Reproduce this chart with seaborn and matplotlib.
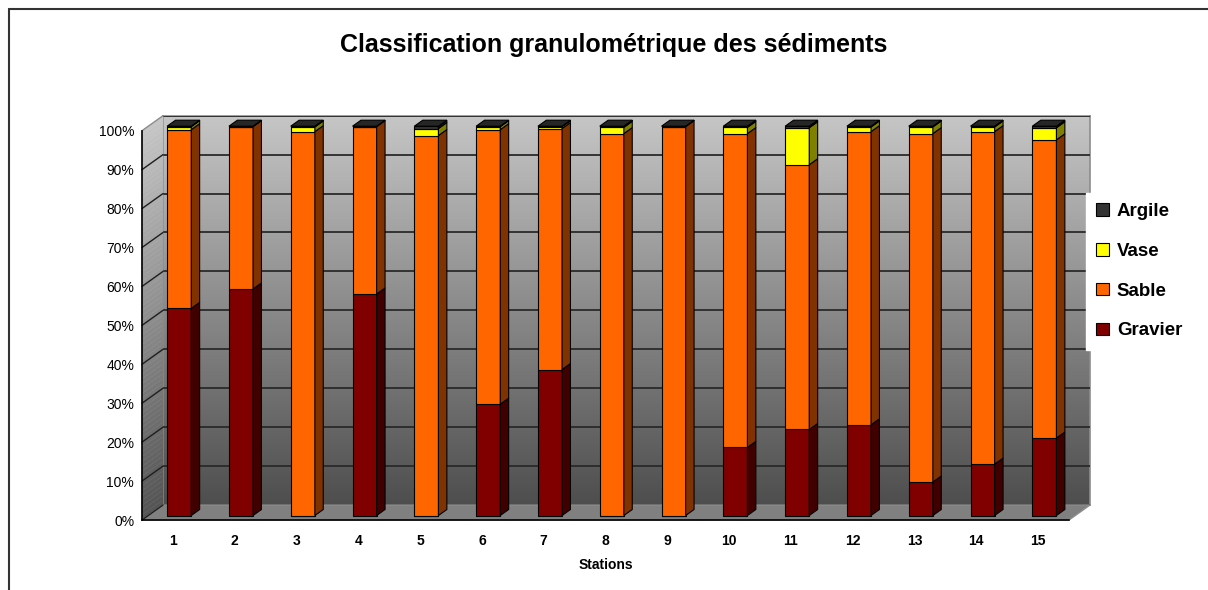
import numpy as np
import matplotlib
matplotlib.use("Agg")
import matplotlib.pyplot as plt
import seaborn as sns
from matplotlib.patches import Polygon, Patch
from matplotlib.colors import LinearSegmentedColormap
from matplotlib.lines import Line2D

# ---------------- data ----------------
stations = [str(i) for i in range(1, 16)]
gravier = [53.2, 58.2, 0.0, 56.9, 0.0, 28.6, 37.5, 0.0, 0.0, 17.5, 22.1, 23.3, 8.6, 13.2, 19.9]
sable = [45.9, 41.7, 98.6, 43.0, 97.6, 70.5, 61.9, 98.1, 99.9, 80.6, 68.0, 75.3, 89.5, 85.4, 76.6]
vase = [0.8, 0.0, 1.2, 0.0, 1.8, 0.8, 0.5, 1.6, 0.0, 1.6, 9.5, 1.2, 1.7, 1.2, 3.1]
argile = [0.1, 0.1, 0.2, 0.1, 0.6, 0.1, 0.1, 0.3, 0.1, 0.3, 0.4, 0.2, 0.2, 0.2, 0.4]
series_names = ["Gravier", "Sable", "Vase", "Argile"]
ytick_values = list(range(0, 101, 10))
ytick_labels = [f"{v}%" for v in ytick_values]
title = "Classification granulométrique des sédiments"
xlabel = "Stations"

front_colors = ["#800000", "#FF6600", "#FFFF00", "#333333"]
side_colors = ["#400000", "#803300", "#808000", "#1a1a1a"]
top_color = "#262626"

# ---------------- style ----------------
sns.set_style("white")
plt.rcParams["font.family"] = ["Liberation Sans", "DejaVu Sans"]
plt.rcParams["text.color"] = "black"
plt.rcParams["axes.labelcolor"] = "black"
plt.rcParams["xtick.color"] = "black"
plt.rcParams["ytick.color"] = "black"

W, H = 1208, 590
fig = plt.figure(figsize=(W / 100, H / 100), dpi=100)


def rect(x0, ytop, x1, ybot):
    return [x0 / W, 1 - ybot / H, (x1 - x0) / W, (ybot - ytop) / H]


FL, FR, FB, FT = 142, 1069, 520, 130.7     # front plane in pixels
DX, DY = 21, 15                              # depth of the 3D box in pixels
n = len(stations)
ux = (FR - FL) / n
uy = (FB - FT) / 100.0
BX, BY = DX / ux, DY / uy                    # depth in data units

ax_back = fig.add_axes(rect(FL + DX, FT - DY, FR + DX, FB - DY), zorder=0)
ax_frame = fig.add_axes(rect(FL, FT, FR, FB), zorder=1)
ax_bars = fig.add_axes(rect(FL + 0.3 * DX, FT - 0.3 * DY, FR + 0.3 * DX, FB - 0.3 * DY), zorder=2)

for a in (ax_back, ax_frame, ax_bars):
    a.set_xlim(-0.5, n - 0.5)
    a.set_ylim(0, 100)

# ---------------- back wall ----------------
wall_cmap = LinearSegmentedColormap.from_list("wall", ["#4e4e4e", "#8a8a8a", "#c6c6c6"])
ax_back.imshow(np.linspace(0, 1, 256)[:, None], cmap=wall_cmap, origin="lower",
               extent=(-0.5, n - 0.5, 0, 100), aspect="auto", zorder=0)
ax_back.set_yticks(ytick_values)
ax_back.yaxis.grid(True, color="#2a2a2a", lw=1.3)
ax_back.set_axisbelow(False)
ax_back.tick_params(left=False, bottom=False, labelleft=False, labelbottom=False)
for s in ax_back.spines.values():
    s.set_color("#8c8c8c")
    s.set_linewidth(1.2)
ax_back.set_xlim(-0.5, n - 0.5)
ax_back.set_ylim(0, 100)

# ---------------- side wall & floor ----------------
ax_frame.set_facecolor("none")
N = 80
for k in range(N):
    y0, y1 = 100 * k / N, 100 * (k + 1) / N
    c = wall_cmap(0.05 + 0.95 * (k + 0.5) / N)
    ax_frame.add_patch(Polygon([(-0.5, y0), (-0.5 + BX, y0 + BY), (-0.5 + BX, y1 + BY), (-0.5, y1)],
                               closed=True, fc=c, ec=c, lw=0.3, clip_on=False, zorder=0.5))
ax_frame.add_patch(Polygon([(-0.5, 0), (n - 0.5, 0), (n - 0.5 + BX, BY), (-0.5 + BX, BY)],
                           closed=True, fc="#808080", ec="#8c8c8c", lw=1.0, clip_on=False, zorder=0.6))
for v in ytick_values:
    col = "#1e1e1e" if v < 100 else "#8c8c8c"
    ax_frame.plot([-0.5, -0.5 + BX], [v, v + BY], color=col, lw=1.0, clip_on=False, zorder=0.8)

for s in ("top", "right"):
    ax_frame.spines[s].set_visible(False)
for s in ("left", "bottom"):
    ax_frame.spines[s].set_color("black")
    ax_frame.spines[s].set_linewidth(1.2)
    ax_frame.spines[s].set_zorder(3)

ax_frame.set_yticks(ytick_values)
ax_frame.set_yticklabels(ytick_labels)
ax_frame.tick_params(axis="y", length=3.6, width=1, color="black", pad=2, labelsize=10, labelcolor="black")
ax_frame.set_xticks(range(n))
ax_frame.set_xticklabels(stations, fontweight="bold")
ax_frame.set_xticks(np.arange(-0.5, n, 1.0), minor=True)
ax_frame.tick_params(axis="x", which="major", length=0, pad=10, labelsize=10, labelcolor="black")
ax_frame.tick_params(axis="x", which="minor", length=4.5, width=1, color="black", direction="out")
ax_frame.set_xlabel(xlabel, fontweight="bold", fontsize=10, labelpad=7, color="black")
ax_frame.set_ylabel("")
ax_frame.set_xlim(-0.5, n - 0.5)
ax_frame.set_ylim(0, 100)

# ---------------- bars ----------------
ax_bars.set_facecolor("none")
layers = [np.array(gravier), np.array(sable), np.array(vase), np.array(argile)]
total = sum(layers)
layers = [l / total * 100 for l in layers]
width = 0.39
ddx, ddy = 0.4 * BX, 0.4 * BY
bottom = np.zeros(n)
for vals, name, fc, sc in zip(layers, series_names, front_colors, side_colors):
    sns.barplot(x=stations, y=vals, bottom=bottom, color=fc, width=width, errorbar=None,
                edgecolor="black", linewidth=0.8, saturation=1, ax=ax_bars)
    for i in range(n):
        if vals[i] <= 0:
            continue
        xr = i + width / 2
        y0, y1 = bottom[i], bottom[i] + vals[i]
        ax_bars.add_patch(Polygon([(xr, y0), (xr + ddx, y0 + ddy), (xr + ddx, y1 + ddy), (xr, y1)],
                                  closed=True, fc=sc, ec="black", lw=0.8, clip_on=False, zorder=2))
    bottom = bottom + vals
for i in range(n):
    xl, xr = i - width / 2, i + width / 2
    t = bottom[i]
    ax_bars.add_patch(Polygon([(xl, t), (xr, t), (xr + ddx, t + ddy), (xl + ddx, t + ddy)],
                              closed=True, fc=top_color, ec="black", lw=0.8, clip_on=False, zorder=2))
for p in ax_bars.patches:
    p.set_clip_on(False)
ax_bars.set_xlim(-0.5, n - 0.5)
ax_bars.set_ylim(0, 100)
ax_bars.axis("off")

# ---------------- legend, title, border ----------------
handles = [Patch(fc=c, ec="black", lw=0.8) for c in front_colors][::-1]
fig.legend(handles, series_names[::-1], loc="upper left", bbox_to_anchor=(1086 / W, 1 - 193 / H),
           frameon=True, facecolor="white", edgecolor="white", framealpha=1, fancybox=False,
           prop=dict(weight="bold", size=13.5), handlelength=0.65, handleheight=0.65,
           handletextpad=0.45, labelspacing=1.21, borderpad=0.55, borderaxespad=0,
           labelcolor="black")

fig.text(613.5 / W, 1 - 45 / H, title, ha="center", va="center", fontweight="bold", fontsize=18,
         color="black")

fig.add_artist(Line2D([9 / W, 9 / W], [0, 1 - 9 / H], color="#333333", lw=1.5))
fig.add_artist(Line2D([9 / W, 1], [1 - 9 / H, 1 - 9 / H], color="#333333", lw=1.5))

fig.savefig("out.png", dpi=100, facecolor="white")
